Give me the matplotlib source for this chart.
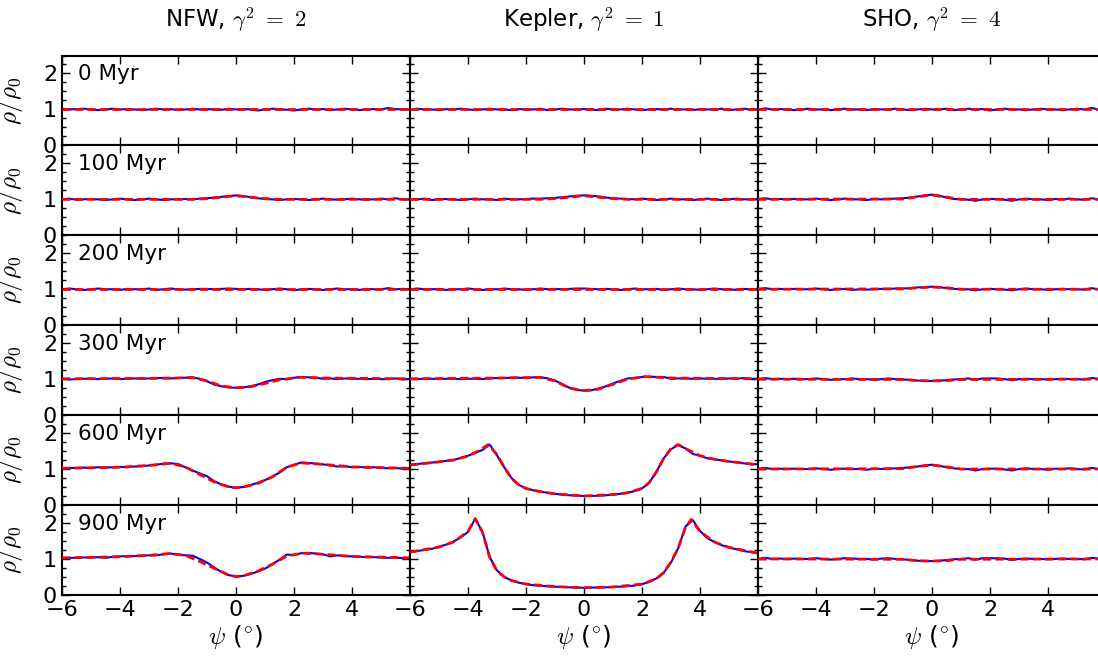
import matplotlib

matplotlib.use("Agg")
import matplotlib.pyplot as plt  # noqa: E402
import numpy as np  # noqa: E402
from matplotlib.ticker import MultipleLocator  # noqa: E402

plt.rcParams["font.family"] = ["DejaVu Sans"]
plt.rcParams["mathtext.fontset"] = "cm"

# density profiles rho/rho0 across the stream, sampled every 0.25 deg
psi_grid = np.arange(-6.0, 6.001, 0.25)

column_titles = [r"NFW, $\gamma^2\ =\ 2$", r"Kepler, $\gamma^2\ =\ 1$", r"SHO, $\gamma^2\ =\ 4$"]
ages = ["0 Myr", "100 Myr", "200 Myr", "300 Myr", "600 Myr", "900 Myr"]
x_ticks = [-6, -4, -2, 0, 2, 4]
y_ticks = [0, 1, 2]

# ---- N-body (blue, noisy) ----
nfw_sim_000 = [1.02, 1.00, 1.01, 1.02, 1.00, 0.98, 1.00,
               1.02, 1.00, 1.01, 1.00, 0.98, 1.00, 1.02,
               1.00, 1.01, 0.98, 1.00, 1.02, 1.00, 1.01,
               1.00, 0.99, 1.02, 1.00, 1.01, 1.00, 0.97,
               1.00, 1.02, 1.01, 0.99, 0.97, 1.00, 1.02,
               1.00, 1.01, 0.98, 1.00, 1.02, 1.00, 0.98,
               1.00, 1.01, 1.00, 1.04, 1.01, 1.00, 1.00]
nfw_sim_100 = [1.00, 1.02, 0.99, 1.00, 1.01, 1.00, 0.98,
               1.00, 1.02, 1.00, 0.98, 1.00, 1.02, 1.00,
               0.98, 1.00, 1.00, 1.01, 1.00, 1.02, 1.03,
               1.05, 1.07, 1.09, 1.11, 1.09, 1.06, 1.03,
               1.01, 1.00, 0.98, 1.00, 1.01, 1.00, 0.98,
               1.00, 1.02, 1.00, 0.99, 1.00, 1.02, 1.00,
               0.99, 1.00, 1.02, 1.00, 1.03, 1.00, 1.00]
nfw_sim_200 = [1.00, 1.02, 1.00, 0.98, 1.00, 1.02, 1.00,
               1.00, 0.98, 1.01, 1.00, 1.00, 1.02, 0.98,
               1.00, 1.02, 1.00, 0.99, 1.00, 1.01, 1.01,
               1.00, 1.01, 1.02, 1.01, 1.00, 1.01, 1.00,
               0.98, 1.00, 1.02, 1.00, 0.97, 1.00, 1.01,
               1.00, 0.98, 1.00, 1.02, 1.00, 1.00, 0.98,
               1.01, 1.00, 1.00, 1.03, 1.00, 1.01, 1.00]
nfw_sim_300 = [1.01, 0.99, 1.00, 1.01, 1.01, 1.00, 1.01,
               1.02, 1.00, 1.01, 1.02, 1.01, 1.02, 1.03,
               1.03, 1.02, 1.03, 1.04, 1.05, 1.01, 0.94,
               0.85, 0.80, 0.77, 0.76, 0.77, 0.80, 0.85,
               0.92, 0.97, 1.01, 1.00, 1.04, 1.06, 1.05,
               1.04, 1.01, 1.02, 1.00, 1.02, 1.01, 1.01,
               1.00, 1.01, 1.00, 1.00, 1.02, 0.99, 1.01]
nfw_sim_600 = [1.02, 1.03, 1.03, 1.04, 1.03, 1.05, 1.04,
               1.05, 1.06, 1.05, 1.07, 1.08, 1.10, 1.12,
               1.15, 1.16, 1.14, 1.05, 0.96, 0.88, 0.80,
               0.66, 0.57, 0.51, 0.48, 0.50, 0.55, 0.62,
               0.69, 0.79, 0.90, 1.05, 1.12, 1.18, 1.17,
               1.15, 1.13, 1.10, 1.07, 1.08, 1.05, 1.06,
               1.04, 1.05, 1.03, 1.02, 1.03, 1.01, 1.02]
nfw_sim_900 = [1.02, 1.03, 1.03, 1.04, 1.04, 1.05, 1.03,
               1.06, 1.07, 1.08, 1.08, 1.09, 1.10, 1.10,
               1.13, 1.15, 1.12, 1.10, 1.09, 1.00, 0.90,
               0.76, 0.64, 0.55, 0.51, 0.53, 0.58, 0.65,
               0.73, 0.85, 0.98, 1.12, 1.11, 1.16, 1.17,
               1.15, 1.13, 1.07, 1.10, 1.08, 1.07, 1.06,
               1.05, 1.05, 1.04, 1.03, 1.04, 1.02, 1.03]

kep_sim_000 = [1.00, 1.02, 1.00, 1.00, 0.98, 1.01, 1.00,
               1.02, 1.00, 0.98, 1.00, 1.02, 1.00, 1.00,
               0.98, 1.01, 1.00, 1.00, 1.02, 0.98, 1.00,
               1.02, 1.00, 1.00, 1.01, 1.00, 0.98, 1.02,
               1.00, 1.00, 1.02, 1.00, 0.98, 1.00, 1.01,
               1.00, 1.02, 1.00, 1.00, 0.98, 1.01, 1.00,
               1.00, 1.02, 0.98, 1.00, 1.02, 1.00, 1.00]
kep_sim_100 = [1.00, 1.00, 1.02, 0.98, 1.00, 1.01, 1.00,
               0.98, 1.00, 1.02, 1.00, 1.00, 0.98, 1.02,
               1.00, 1.00, 1.01, 1.02, 1.02, 1.03, 1.04,
               1.06, 1.08, 1.10, 1.11, 1.10, 1.08, 1.05,
               1.03, 1.02, 1.01, 1.00, 1.02, 1.00, 0.98,
               1.00, 1.02, 1.00, 1.00, 0.98, 1.00, 1.02,
               1.00, 0.98, 1.00, 1.02, 1.00, 1.00, 1.01]
kep_sim_200 = [1.00, 1.02, 1.00, 1.00, 1.01, 0.98, 1.00,
               1.00, 1.02, 1.00, 0.98, 1.00, 1.00, 1.02,
               1.00, 1.00, 0.98, 1.00, 1.02, 1.00, 1.01,
               1.00, 1.01, 1.02, 1.02, 1.01, 1.00, 1.01,
               1.00, 0.98, 1.00, 1.02, 1.00, 1.00, 1.01,
               0.98, 1.00, 1.02, 1.00, 1.00, 0.98, 1.00,
               1.02, 1.00, 1.00, 0.98, 1.01, 1.00, 1.00]
kep_sim_300 = [1.01, 1.00, 1.01, 1.01, 1.00, 1.01, 1.01,
               1.00, 1.01, 1.01, 1.00, 1.02, 1.03, 1.03,
               1.04, 1.04, 1.03, 1.05, 1.05, 1.02, 0.96,
               0.86, 0.76, 0.70, 0.68, 0.69, 0.74, 0.80,
               0.88, 0.95, 1.02, 1.03, 1.06, 1.07, 1.06,
               1.06, 1.01, 1.02, 1.02, 1.01, 1.02, 1.01,
               1.01, 1.00, 1.02, 1.01, 1.03, 1.01, 1.01]
kep_sim_600 = [1.12, 1.14, 1.16, 1.18, 1.20, 1.23, 1.25,
               1.31, 1.37, 1.45, 1.53, 1.68, 1.38, 1.05,
               0.75, 0.56, 0.46, 0.41, 0.37, 0.34, 0.31,
               0.29, 0.27, 0.26, 0.25, 0.25, 0.26, 0.27,
               0.29, 0.31, 0.34, 0.39, 0.46, 0.62, 0.93,
               1.30, 1.55, 1.67, 1.57, 1.42, 1.37, 1.30,
               1.27, 1.24, 1.21, 1.19, 1.16, 1.13, 1.14]
kep_sim_900 = [1.19, 1.22, 1.25, 1.28, 1.34, 1.40, 1.48,
               1.60, 1.75, 2.12, 1.75, 1.05, 0.68, 0.50,
               0.40, 0.34, 0.30, 0.27, 0.25, 0.24, 0.23,
               0.22, 0.21, 0.20, 0.20, 0.20, 0.21, 0.21,
               0.22, 0.23, 0.24, 0.26, 0.30, 0.36, 0.46,
               0.62, 0.90, 1.30, 1.90, 2.08, 1.78, 1.58,
               1.47, 1.38, 1.32, 1.27, 1.22, 1.19, 1.16]

sho_sim_000 = [1.00, 1.03, 1.00, 1.01, 1.00, 0.98, 1.00,
               1.02, 1.00, 1.00, 0.98, 1.00, 1.02, 1.00,
               1.00, 0.98, 1.01, 1.00, 1.00, 1.02, 1.00,
               0.98, 1.00, 1.02, 1.00, 1.00, 1.02, 0.98,
               1.00, 1.02, 1.00, 1.01, 0.97, 1.00, 1.02,
               1.00, 1.00, 0.98, 1.00, 1.02, 1.00, 1.00,
               0.98, 1.00, 1.02, 1.00, 1.04, 1.00, 1.01]
sho_sim_100 = [1.01, 1.03, 1.00, 1.01, 1.00, 1.01, 1.00,
               1.00, 1.02, 1.00, 0.98, 1.00, 1.02, 1.00,
               1.00, 0.98, 1.01, 1.00, 1.01, 1.02, 1.03,
               1.05, 1.08, 1.11, 1.13, 1.10, 1.05, 1.01,
               1.00, 0.99, 0.96, 1.00, 1.01, 1.01, 0.99,
               0.96, 1.00, 1.02, 1.00, 1.00, 0.98, 1.01,
               1.00, 1.02, 1.00, 0.99, 1.03, 1.00, 1.01]
sho_sim_200 = [1.01, 1.03, 1.00, 1.01, 1.00, 1.01, 1.00,
               1.00, 1.02, 1.00, 0.98, 1.00, 1.01, 0.98,
               1.00, 0.99, 1.00, 1.01, 1.01, 1.02, 1.02,
               1.03, 1.05, 1.06, 1.07, 1.06, 1.03, 1.01,
               1.00, 1.00, 0.97, 1.00, 1.01, 1.00, 0.99,
               0.97, 1.00, 1.02, 1.00, 1.00, 0.98, 1.00,
               1.01, 1.00, 1.00, 0.99, 1.03, 1.00, 1.00]
sho_sim_300 = [1.00, 1.03, 1.00, 1.01, 1.00, 1.01, 1.00,
               1.00, 1.02, 1.00, 0.98, 1.00, 1.00, 1.02,
               1.00, 1.00, 0.98, 1.00, 1.02, 1.00, 0.99,
               0.98, 0.96, 0.95, 0.95, 0.96, 0.97, 0.99,
               1.00, 1.02, 0.98, 1.02, 1.02, 1.02, 1.00,
               0.97, 1.00, 1.01, 1.00, 1.00, 0.99, 1.00,
               1.01, 1.00, 1.00, 0.99, 1.03, 1.01, 1.00]
sho_sim_600 = [1.01, 1.03, 1.00, 1.01, 1.00, 1.01, 1.00,
               1.00, 1.02, 1.00, 0.98, 1.00, 1.01, 1.00,
               1.00, 0.98, 1.01, 1.00, 1.01, 1.02, 1.03,
               1.05, 1.07, 1.10, 1.12, 1.09, 1.05, 1.02,
               1.00, 1.00, 0.96, 1.00, 1.01, 1.01, 0.99,
               0.96, 1.00, 1.02, 1.00, 1.00, 0.98, 1.01,
               1.00, 1.02, 1.00, 0.99, 1.03, 1.00, 1.01]
sho_sim_900 = [1.00, 1.03, 1.00, 1.01, 1.00, 1.01, 1.00,
               1.00, 1.02, 1.00, 0.98, 1.00, 1.02, 1.01,
               1.00, 1.00, 0.98, 1.01, 1.02, 1.00, 0.99,
               0.97, 0.95, 0.94, 0.94, 0.95, 0.97, 0.99,
               1.00, 1.02, 0.98, 1.02, 1.02, 1.02, 1.01,
               0.97, 1.00, 1.01, 1.00, 1.00, 0.99, 1.00,
               1.01, 1.00, 1.00, 0.99, 1.03, 1.01, 1.00]

# ---- model (red, dashed): knots in psi and rho ----
flat_psi = [-6.0, 6.0]
flat_rho = [1.0, 1.0]

nfw_mod_100_psi = [-6, -1.5, -1.0, -0.5, 0, 0.5, 1.0, 1.5, 6]
nfw_mod_100_rho = [1.0, 1.0, 1.02, 1.06, 1.10, 1.06, 1.02, 1.0, 1.0]
nfw_mod_300_psi = [-6, -3, -1.5, -1.0, -0.5, 0, 0.5, 1.0, 1.5, 2.2, 3.0, 6]
nfw_mod_300_rho = [1.01, 1.02, 1.04, 0.95, 0.81, 0.76, 0.79, 0.88, 0.98, 1.05, 1.03, 1.01]
nfw_mod_600_psi = [-6, -4, -3, -2.25, -1.75, -1.25, -0.75, -0.25, 0,
                   0.25, 0.75, 1.25, 1.75, 2.25, 3, 4, 6]
nfw_mod_600_rho = [1.02, 1.05, 1.10, 1.16, 1.06, 0.85, 0.64, 0.50, 0.48,
                   0.50, 0.60, 0.78, 1.05, 1.17, 1.13, 1.06, 1.02]
nfw_mod_900_psi = [-6, -4, -3, -2.3, -1.75, -1.25, -0.75, -0.25, 0,
                   0.25, 0.75, 1.25, 1.75, 2.3, 3, 4, 6]
nfw_mod_900_rho = [1.03, 1.06, 1.10, 1.15, 1.10, 0.93, 0.74, 0.55, 0.51,
                   0.53, 0.66, 0.85, 1.08, 1.16, 1.13, 1.07, 1.03]

kep_mod_100_psi = [-6, -1.5, -1.0, -0.5, 0, 0.5, 1.0, 1.5, 6]
kep_mod_100_rho = [1.0, 1.0, 1.02, 1.06, 1.10, 1.06, 1.02, 1.0, 1.0]
kep_mod_300_psi = [-6, -3, -1.5, -1.0, -0.5, 0, 0.5, 1.0, 1.5, 2.1, 3.0, 6]
kep_mod_300_rho = [1.01, 1.03, 1.05, 0.95, 0.75, 0.68, 0.72, 0.86, 1.00, 1.07, 1.03, 1.01]
kep_mod_600_psi = [-6, -5, -4.5, -4, -3.6, -3.3, -3.0, -2.75, -2.5, -2.25, -2, -1.5, -1, 0,
                   1, 1.5, 2, 2.25, 2.5, 2.75, 3.0, 3.25, 3.5, 4, 4.5, 5, 6]
kep_mod_600_rho = [1.11, 1.20, 1.25, 1.36, 1.52, 1.68, 1.40, 1.05, 0.74, 0.56, 0.46, 0.37, 0.31, 0.25,
                   0.29, 0.34, 0.46, 0.62, 0.92, 1.30, 1.57, 1.68, 1.57, 1.37, 1.27, 1.21, 1.12]
kep_mod_900_psi = [-6, -5, -4.5, -4.0, -3.75, -3.5, -3.25, -3.0, -2.75, -2.5, -2.0, -1.0, 0,
                   1.0, 2.0, 2.5, 2.75, 3.0, 3.25, 3.5, 3.7, 4.0, 4.5, 5.0, 6.0]
kep_mod_900_rho = [1.19, 1.33, 1.47, 1.76, 2.12, 1.74, 1.04, 0.66, 0.50, 0.40, 0.30, 0.23, 0.20,
                   0.22, 0.30, 0.45, 0.62, 0.92, 1.30, 1.88, 2.10, 1.76, 1.47, 1.32, 1.16]

sho_mod_100_psi = [-6, -1.0, -0.5, 0, 0.5, 1.0, 6]
sho_mod_100_rho = [1.0, 1.01, 1.07, 1.12, 1.06, 1.0, 1.0]
sho_mod_200_psi = [-6, -1.0, -0.5, 0, 0.5, 1.0, 6]
sho_mod_200_rho = [1.0, 1.01, 1.04, 1.06, 1.04, 1.0, 1.0]
sho_mod_300_psi = [-6, -1.0, -0.5, 0, 0.5, 1.0, 6]
sho_mod_300_rho = [1.0, 0.99, 0.96, 0.95, 0.96, 0.99, 1.0]
sho_mod_600_psi = [-6, -1.0, -0.5, 0, 0.5, 1.0, 6]
sho_mod_600_rho = [1.0, 1.01, 1.07, 1.11, 1.06, 1.0, 1.0]
sho_mod_900_psi = [-6, -1.0, -0.5, 0, 0.5, 1.0, 6]
sho_mod_900_rho = [1.0, 0.99, 0.95, 0.94, 0.95, 0.99, 1.0]

panels = [
    [  # NFW
        (nfw_sim_000, flat_psi, flat_rho),
        (nfw_sim_100, nfw_mod_100_psi, nfw_mod_100_rho),
        (nfw_sim_200, flat_psi, flat_rho),
        (nfw_sim_300, nfw_mod_300_psi, nfw_mod_300_rho),
        (nfw_sim_600, nfw_mod_600_psi, nfw_mod_600_rho),
        (nfw_sim_900, nfw_mod_900_psi, nfw_mod_900_rho),
    ],
    [  # Kepler
        (kep_sim_000, flat_psi, flat_rho),
        (kep_sim_100, kep_mod_100_psi, kep_mod_100_rho),
        (kep_sim_200, flat_psi, flat_rho),
        (kep_sim_300, kep_mod_300_psi, kep_mod_300_rho),
        (kep_sim_600, kep_mod_600_psi, kep_mod_600_rho),
        (kep_sim_900, kep_mod_900_psi, kep_mod_900_rho),
    ],
    [  # SHO
        (sho_sim_000, flat_psi, flat_rho),
        (sho_sim_100, sho_mod_100_psi, sho_mod_100_rho),
        (sho_sim_200, sho_mod_200_psi, sho_mod_200_rho),
        (sho_sim_300, sho_mod_300_psi, sho_mod_300_rho),
        (sho_sim_600, sho_mod_600_psi, sho_mod_600_rho),
        (sho_sim_900, sho_mod_900_psi, sho_mod_900_rho),
    ],
]

W, H = 1098, 657
fig = plt.figure(figsize=(W / 100, H / 100), dpi=100)

# grid geometry in pixels; the last column runs past the right edge
col_left = [62, 410, 758]
col_w = 348
grid_top = 55.5
row_h = 89.9
tick_fs = 16
label_fs = 18

for c in range(3):
    for r in range(6):
        sim, mpsi, mrho = panels[c][r]
        assert len(sim) == len(psi_grid)
        y0 = H - (grid_top + (r + 1) * row_h)
        ax = fig.add_axes([col_left[c] / W, y0 / H, col_w / W, row_h / H])
        ax.plot(psi_grid, sim, color="#0000ff", lw=1.5, zorder=2)
        ax.plot(mpsi, mrho, color="#ff0000", lw=2, dashes=(3, 1.5), zorder=3)
        ax.set_xlim(-6, 6)
        ax.set_ylim(0, 2.5)
        ax.set_xticks(x_ticks)
        ax.set_yticks(y_ticks)
        ax.yaxis.set_minor_locator(MultipleLocator(0.25))
        ax.tick_params(which="both", direction="in", top=True, right=True,
                       labelsize=tick_fs, width=1)
        ax.tick_params(which="major", length=6)
        ax.tick_params(which="minor", length=3)
        for sp in ax.spines.values():
            sp.set_linewidth(1.5)
        if c == 0:
            ax.set_ylabel(r"$\rho/\rho_0$", fontsize=label_fs)
            ax.yaxis.set_label_coords(-0.105, 0.5)
            ax.text(0.046, 0.79, ages[r], transform=ax.transAxes,
                    fontsize=15.5, ha="left", va="center")
        else:
            ax.set_yticklabels([])
        if r == 5:
            ax.set_xlabel(r"$\psi$ ($^{\circ}$)", fontsize=label_fs, labelpad=2)
        else:
            ax.set_xticklabels([])
    fig.text((col_left[c] + col_w / 2) / W, 1 - 20 / H, column_titles[c],
             ha="center", va="center", fontsize=16.5)

fig.savefig("out.png", dpi=100)
